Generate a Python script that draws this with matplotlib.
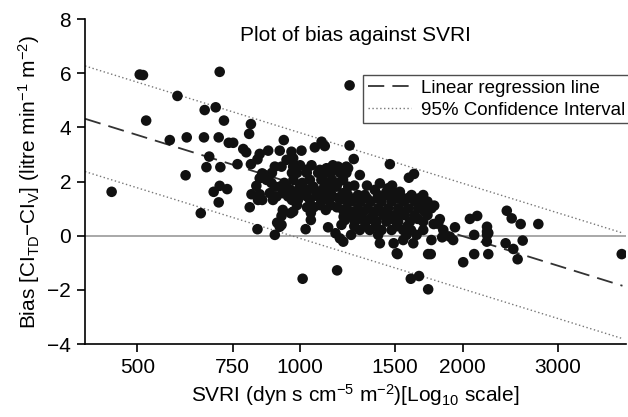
import numpy as np
import matplotlib
matplotlib.use("Agg")
import matplotlib.pyplot as plt

plt.rcParams['font.family'] = ['Liberation Sans', 'DejaVu Sans']
plt.rcParams['mathtext.fontset'] = 'custom'
plt.rcParams['mathtext.rm'] = 'Liberation Sans'
plt.rcParams['mathtext.it'] = 'Liberation Sans'

# left / sparse part of the cloud
svri_low = [505, 512, 710, 593, 666, 698, 519, 723, 811, 805, 574, 617, 664, 707,
            738, 752, 785, 795, 842, 834, 679, 671, 712, 766, 811, 614, 842, 448,
            692, 710, 733, 707, 830, 813, 842, 836, 807, 655, 834, 1171, 1011, 898,
            917, 907, 924, 1024, 961, 1127, 1163, 1202, 1047, 1047, 1235]
bias_low = [5.95, 5.93, 6.05, 5.16, 4.64, 4.74, 4.25, 4.25, 4.12, 3.76, 3.53, 3.63, 3.63, 3.63,
            3.43, 3.43, 3.20, 3.08, 3.02, 2.82, 2.92, 2.53, 2.53, 2.64, 2.64, 2.23, 2.12, 1.62,
            1.62, 1.84, 1.72, 1.23, 1.84, 1.53, 1.53, 1.32, 1.05, 0.83, 0.24, -1.28, -1.59, 0.03,
            0.33, 0.48, 0.73, 0.24, 0.83, 0.31, 0.09, -0.22, 0.58, 0.84, 5.55]

# dense middle of the cloud (800-1250)
svri_mid = [933, 1096, 1065, 1111, 1235, 873, 917, 964, 1006, 944, 971, 971, 898, 924,
            1028, 1088, 1119, 1176, 1193, 1227, 851, 860,
            887, 966, 987, 1029, 1080, 1116, 1139, 1185, 1218,
            867, 972, 1043, 1095, 1146, 1201,
            898, 917, 944, 999, 1058, 1111, 1168, 1228,
            879, 929, 972, 1012, 1072, 1116, 1201,
            851, 891, 966, 991, 1043, 1095, 1125, 1185, 1218,
            987, 1088, 1139, 1116, 1201, 1204, 1211,
            1185, 1193, 971, 929, 924,
            885, 935, 1010, 1125, 1175,
            905, 950, 1030, 1080, 1150, 1190,
            960, 1035, 1100, 1140,
            1000, 1050, 1150,
            1030, 1060, 1170]
bias_mid = [3.53, 3.47, 3.26, 3.31, 3.33, 3.14, 3.14, 3.10, 3.14, 2.80, 2.86, 2.55, 2.55, 2.55,
            2.43, 2.43, 2.49, 2.55, 2.43, 2.49, 2.30, 2.24,
            2.32, 2.32, 2.32, 2.32, 2.32, 2.32, 2.32, 2.32, 2.32,
            2.06, 2.06, 2.06, 2.06, 2.06, 2.06,
            1.81, 1.81, 1.81, 1.81, 1.81, 1.81, 1.81, 1.81,
            1.57, 1.57, 1.57, 1.57, 1.57, 1.57, 1.57,
            1.32, 1.32, 1.32, 1.32, 1.32, 1.32, 1.32, 1.32, 1.32,
            1.13, 1.13, 1.13, 0.95, 0.95, 0.70, 0.58,
            -0.10, 0.40, 0.89, 0.95, 0.40,
            1.95, 1.95, 1.95, 1.95, 1.95,
            1.45, 1.45, 1.45, 1.45, 1.45, 1.45,
            1.70, 1.70, 1.70, 1.70,
            2.60, 2.60, 2.60,
            1.05, 1.05, 1.05]

# dense right part of the cloud (1200-1800)
svri_hi = [1290, 1405, 1455, 1375, 1498,
           1226, 1280, 1318, 1395, 1445, 1530, 1608, 1690,
           1243, 1296, 1352, 1415, 1477, 1552, 1631, 1721,
           1218, 1280, 1335, 1395, 1455, 1519, 1586, 1654, 1750,
           1237, 1296, 1365, 1425, 1498, 1563, 1631, 1721,
           1263, 1318, 1385, 1445, 1519, 1597, 1690,
           1290, 1346, 1415, 1477, 1552, 1604, 1690,
           1243, 1395, 1643,
           1405, 1490, 1620, 1510, 1552, 1574, 1690,
           1257, 1466, 1590, 1625, 1211, 1445, 1530, 1218,
           1260, 1330, 1480,
           1270, 1330, 1390, 1510, 1580, 1660,
           1250, 1310, 1370, 1440, 1540, 1700,
           1280, 1350, 1480, 1650,
           1260, 1320, 1380, 1510, 1580]
bias_hi = [2.24, 1.93, 1.75, 1.69, 1.57,
           1.50, 1.50, 1.50, 1.50, 1.50, 1.50, 1.50, 1.50,
           1.26, 1.26, 1.26, 1.26, 1.26, 1.26, 1.26, 1.26,
           1.01, 1.01, 1.01, 1.01, 1.01, 1.01, 1.01, 1.01, 1.01,
           0.76, 0.76, 0.76, 0.76, 0.76, 0.76, 0.76, 0.76,
           0.52, 0.52, 0.52, 0.52, 0.52, 0.52, 0.52,
           0.21, 0.21, 0.21, 0.21, 0.21, 0.21, 0.21,
           0.03, 0.03, 0.03,
           -0.28, -0.28, -0.28, -0.65, -0.16, 0.03, 1.07,
           2.83, 2.64, 2.14, 2.28, 2.43, 1.62, 1.62, 2.55,
           1.85, 1.85, 1.85,
           1.38, 1.38, 1.38, 1.38, 1.38, 1.38,
           0.88, 0.88, 0.88, 0.88, 0.88, 0.88,
           0.62, 0.62, 0.62, 0.62,
           0.35, 0.35, 0.35, 0.35, 0.35]

# sparse tail on the right
svri_tail = [1841, 1832, 1894, 1920, 1935, 1802, 1771, 1814, 1767, 1750, 1726, 1745,
             1726, 1603, 1660, 1515, 2004, 2100, 2230, 2127, 2062, 2100, 2218, 2218,
             2218, 2230, 2216, 2401, 2413, 2464, 2560, 2760, 2582, 2481, 2527, 3938]
bias_tail = [0.21, -0.06, -0.04, -0.16, 0.31, 0.46, 1.11, 0.61, 0.43, -0.16, -0.68, -0.68,
             -1.98, -1.59, -1.49, -0.68, -0.98, -0.68, -0.68, 0.73, 0.62, 0.03, 0.33, 0.15,
             0.03, 0.10, -0.22, -0.28, 0.92, 0.64, 0.43, 0.43, -0.18, -0.49, -0.87, -0.68]

# regression: bias = a + b*log10(SVRI), 95% band +/- ci
reg_a = 20.45
reg_b = -6.2
ci = 1.95
x_range = [400, 3950]

svri = np.array(svri_low + svri_mid + svri_hi + svri_tail)
bias = np.array(bias_low + bias_mid + bias_hi + bias_tail)

fig = plt.figure(figsize=(6.28, 4.17), dpi=100)
ax = fig.add_axes([0.1354, 0.175, 0.8614, 0.7794])

ax.axhline(0, color='#9a9a9a', lw=1.2, zorder=1)
ax.scatter(svri, bias, s=58, color='#111111', edgecolors='none', zorder=3)

xl = np.geomspace(x_range[0], x_range[1], 50)
yl = reg_a + reg_b * np.log10(xl)
ax.plot(xl, yl, color='#333333', lw=1.3, dashes=(9, 4.5), zorder=2,
        label='Linear regression line')
ax.plot(xl, yl + ci, color='#777777', lw=1.0, ls=(0, (1, 1.8)), zorder=2,
        label='95% Confidence Interval')
ax.plot(xl, yl - ci, color='#777777', lw=1.0, ls=(0, (1, 1.8)), zorder=2)

ax.set_xscale('log')
ax.set_xlim(400, 4010)
ax.set_ylim(-4, 8)
ax.set_xticks([500, 750, 1000, 1500, 2000, 3000])
ax.set_xticklabels(['500', '750', '1000', '1500', '2000', '3000'])
ax.xaxis.set_minor_locator(matplotlib.ticker.NullLocator())
ax.set_yticks([-4, -2, 0, 2, 4, 6, 8])

for s in ['top', 'right']:
    ax.spines[s].set_visible(False)
for s in ['left', 'bottom']:
    ax.spines[s].set_linewidth(1.2)
ax.tick_params(axis='both', labelsize=15, length=6, width=1.2, pad=4)

ax.set_xlabel('SVRI (dyn s cm$^{-5}$ m$^{-2}$)[Log$_{10}$ scale]', fontsize=15, labelpad=4)
ax.set_ylabel('Bias [CI$_{TD}$\u2212CI$_{V}$] (litre min$^{-1}$ m$^{-2}$)', fontsize=15, labelpad=4)

ax.text(0.5, 0.948, 'Plot of bias against SVRI', transform=ax.transAxes,
        ha='center', va='center', fontsize=15)

leg = ax.legend(loc='upper left', bbox_to_anchor=(0.514, 0.828), fontsize=13.5,
                frameon=True, fancybox=False, handlelength=2.3, borderpad=0.25,
                labelspacing=0.25, handletextpad=0.55, borderaxespad=0)
leg.get_frame().set_edgecolor('#222222')
leg.get_frame().set_linewidth(1.0)

fig.savefig('out.png', dpi=100)
